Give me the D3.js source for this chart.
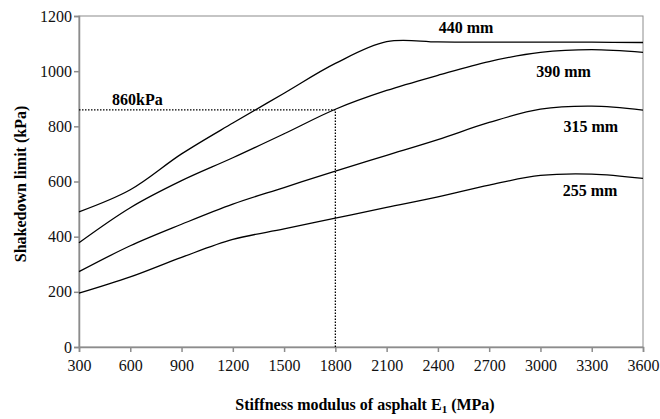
<!DOCTYPE html>
<html>
<head>
<meta charset="utf-8">
<script src="https://cdn.jsdelivr.net/npm/d3@7"></script>
<style>
  body { margin: 0; background: #fff; }
  text { font-family: "Liberation Serif", "Times New Roman", serif; }
</style>
</head>
<body>
<script>
// stiffness values (MPa)
let stiffness = [300, 600, 900, 1200, 1500, 1800, 2100, 2400, 2700, 3000, 3300, 3600]

// shakedown limit (kPa) for each asphalt thickness
let s440 = [490, 570, 700, 812, 920, 1028, 1107, 1106, 1105, 1105, 1105, 1104]
let s390 = [378, 505, 603, 686, 773, 862, 930, 985, 1035, 1068, 1078, 1068]
let s315 = [273, 367, 445, 518, 578, 638, 695, 752, 814, 862, 873, 859]
let s255 = [195, 254, 325, 390, 428, 467, 506, 544, 587, 622, 627, 611]

let seriesNames = ['440 mm', '390 mm', '315 mm', '255 mm']
let seriesValues = [s440, s390, s315, s255]
// label anchor: [E, kPa]
let labelPos = [[2565, 1140], [3135, 980], [3295, 778], [3290, 546]]

let xTicks = d3.range(300, 3601, 300)
let yTicks = d3.range(0, 1201, 200)

let refE = 1800, refP = 860

const width = 660, height = 419
const margin = {top: 16, right: 17, bottom: 72, left: 79}

let svg = d3.select('body').append('svg')
    .attr('width', width)
    .attr('height', height)

let x = d3.scaleLinear().domain([300, 3600]).range([margin.left, width - margin.right])
let y = d3.scaleLinear().domain([0, 1200]).range([height - margin.bottom, margin.top])

// plot frame
svg.append('rect')
    .attr('x', x(300)).attr('y', y(1200))
    .attr('width', x(3600) - x(300)).attr('height', y(0) - y(1200))
    .attr('fill', 'none').attr('stroke', '#8c8c8c').attr('stroke-width', 1)

let xAxis = svg.append('g')
    .attr('transform', `translate(0,${y(0)})`)
    .call(d3.axisBottom(x).tickValues(xTicks).tickSize(5).tickPadding(8).tickFormat(d3.format('d')))
let yAxis = svg.append('g')
    .attr('transform', `translate(${x(300)},0)`)
    .call(d3.axisLeft(y).tickValues(yTicks).tickSize(5).tickPadding(2).tickFormat(d3.format('d')))

for (let ax of [xAxis, yAxis]) {
    ax.select('.domain').attr('stroke', '#8c8c8c').attr('stroke-width', 1.5)
    ax.selectAll('.tick line').attr('stroke', '#8c8c8c').attr('stroke-width', 1.5)
    ax.selectAll('.tick text')
        .attr('fill', '#111')
        .style('font-size', '16px')
        .style('font-family', '"Liberation Serif", "Times New Roman", serif')
}

// reference dotted lines
svg.append('path')
    .attr('d', `M${x(300)},${y(refP)}H${x(refE)}V${y(0)}`)
    .attr('fill', 'none')
    .attr('stroke', '#000')
    .attr('stroke-width', 1.3)
    .attr('stroke-dasharray', '1.5,1.5')

svg.append('text')
    .attr('x', x(300) + 33).attr('y', y(refP) - 5)
    .style('font-size', '16px').style('font-weight', 'bold')
    .text(refP + 'kPa')

let line = d3.line()
    .x((d, i) => x(stiffness[i]))
    .y(d => y(d))
    .curve(d3.curveCatmullRom)

svg.selectAll('.series')
    .data(seriesValues)
    .join('path')
    .attr('class', 'series')
    .attr('d', line)
    .attr('fill', 'none')
    .attr('stroke', '#000')
    .attr('stroke-width', 1.3)

svg.selectAll('.slabel')
    .data(seriesNames)
    .join('text')
    .attr('class', 'slabel')
    .attr('x', (d, i) => x(labelPos[i][0]))
    .attr('y', (d, i) => y(labelPos[i][1]))
    .attr('text-anchor', 'middle')
    .style('font-size', '16px').style('font-weight', 'bold')
    .text(d => d)

// axis titles
let xt = svg.append('text')
    .attr('x', 365).attr('y', 410)
    .attr('text-anchor', 'middle')
    .style('font-size', '16px').style('font-weight', 'bold')
xt.append('tspan').text('Stiffness modulus of asphalt E')
xt.append('tspan').attr('dy', 3).style('font-size', '11px').text('1')
xt.append('tspan').attr('dy', -3).text(' (MPa)')

svg.append('text')
    .attr('transform', `translate(26,184) rotate(-90)`)
    .attr('text-anchor', 'middle')
    .style('font-size', '16px').style('font-weight', 'bold')
    .text('Shakedown limit (kPa)')
</script>
</body>
</html>
